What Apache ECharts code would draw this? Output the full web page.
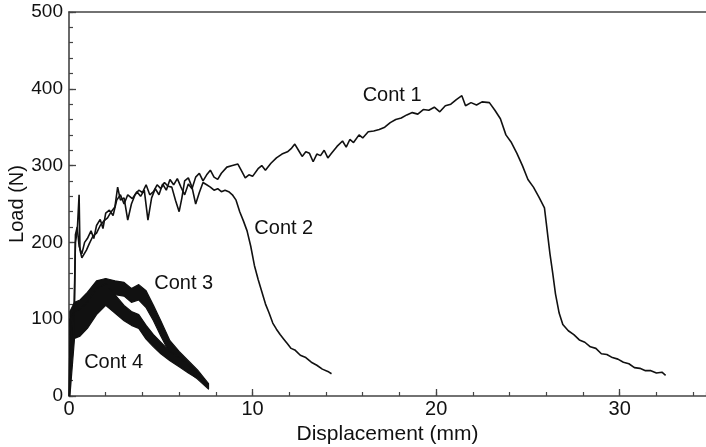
<!DOCTYPE html>
<html><head><meta charset="utf-8">
<script src="https://cdn.jsdelivr.net/npm/echarts@6/dist/echarts.min.js"></script>
<style>html,body{margin:0;padding:0;background:#fff}#c{width:706px;height:447px}</style>
</head><body><div id="c"></div>
<script>
// Cont 1 (long curve): [displacement mm, load N]
const cont1 = [[0.0,0],[0.05,60],[0.3,120],[0.35,210],[0.45,220],[0.55,195],[0.7,185],[0.85,200],[1.0,205],[1.2,215],[1.35,205],[1.5,222],[1.7,230],[1.85,218],[2.0,238],[2.2,242],[2.4,235],[2.6,255],[2.8,262],[3.0,250],[3.2,262],[3.45,257],[3.7,266],[3.9,260],[4.1,268],[4.3,229],[4.5,258],[4.7,270],[4.9,262],[5.1,276],[5.3,268],[5.5,282],[5.7,275],[5.9,283],[6.1,272],[6.3,262],[6.5,276],[6.7,270],[6.9,285],[7.1,290],[7.3,280],[7.5,288],[7.7,294],[7.9,285],[8.1,282],[8.3,290],[8.6,298],[8.9,300],[9.2,302],[9.4,293],[9.6,284],[9.8,288],[10.0,286],[10.3,296],[10.5,300],[10.7,294],[11.0,303],[11.3,310],[11.6,315],[11.9,318],[12.1,322],[12.3,328],[12.5,320],[12.7,312],[12.9,318],[13.1,316],[13.3,305],[13.5,315],[13.7,313],[13.9,320],[14.1,310],[14.3,316],[14.6,325],[14.9,332],[15.1,324],[15.3,334],[15.5,330],[15.8,340],[16.0,336],[16.3,344],[16.6,345],[16.9,347],[17.2,350],[17.5,356],[17.8,360],[18.1,362],[18.4,366],[18.7,369],[19.0,367],[19.3,373],[19.6,372],[19.9,376],[20.2,370],[20.5,378],[20.8,380],[21.1,386],[21.4,391],[21.6,378],[21.9,382],[22.2,379],[22.5,383],[22.9,382],[23.2,372],[23.5,361],[23.8,340],[24.1,330],[24.4,316],[24.7,300],[25.0,282],[25.3,272],[25.6,259],[25.9,245],[26.0,225],[26.1,205],[26.2,185],[26.35,160],[26.5,133],[26.7,108],[26.9,93],[27.2,85],[27.5,80],[27.8,73],[28.1,70],[28.4,64],[28.7,62],[29.0,55],[29.3,54],[29.6,50],[29.9,48],[30.2,44],[30.5,42],[30.8,37],[31.1,36],[31.4,33],[31.7,33],[32.0,30],[32.3,31],[32.5,27]];
// Cont 2
const cont2 = [[0.25,80],[0.35,200],[0.45,215],[0.55,262],[0.6,190],[0.7,180],[0.8,178],[0.95,190],[1.1,198],[1.3,208],[1.5,212],[1.7,222],[1.9,228],[2.1,232],[2.3,240],[2.5,246],[2.65,272],[2.8,255],[3.0,258],[3.2,229],[3.4,250],[3.6,262],[3.8,268],[4.0,265],[4.2,275],[4.4,262],[4.6,266],[4.8,275],[5.0,270],[5.2,278],[5.4,273],[5.6,272],[5.8,255],[6.0,240],[6.15,258],[6.3,280],[6.5,284],[6.7,272],[6.9,250],[7.1,265],[7.3,278],[7.5,275],[7.7,272],[7.9,268],[8.1,270],[8.3,266],[8.5,268],[8.7,266],[8.9,262],[9.1,255],[9.3,240],[9.5,228],[9.7,215],[9.9,195],[10.1,170],[10.3,152],[10.5,136],[10.7,120],[10.9,108],[11.1,95],[11.3,87],[11.5,80],[11.7,74],[11.9,68],[12.1,62],[12.3,60],[12.6,53],[12.9,50],[13.2,44],[13.5,40],[13.8,35],[14.1,32],[14.3,29]];
// Cont 3 noisy band: lower and upper envelope
const cont3X  = [0.05,0.3,0.6,1.0,1.5,2.0,2.5,3.0,3.4,3.8,4.2,4.6,5.0,5.5,6.0,6.5,7.0,7.6];
const cont3Lo = [30,85,88,98,118,130,132,130,122,125,115,98,78,55,44,32,22,9];
const cont3Hi = [110,122,125,135,150,153,150,148,140,145,137,118,98,72,58,46,34,16];
// Cont 4 noisy band
const cont4X  = [0.05,0.3,0.6,1.0,1.5,2.0,2.5,3.0,3.4,3.8,4.2,4.6,5.0,5.5,6.0,6.5,6.9];
const cont4Lo = [0,75,78,88,106,118,108,98,92,88,74,64,55,46,38,30,24];
const cont4Hi = [100,110,113,122,140,146,132,118,110,106,92,80,70,58,50,40,32];
// Tick values
const xMajor = 10, xMinor = 2, xMax = 34.7;
const yMajor = 100, yMinor = 20, yMax = 500;
// Curve labels (data coordinates)
const labelNames = ['Cont 1','Cont 2','Cont 3','Cont 4'];
const labelPos = [[17.6,391],[11.7,218],[6.25,147],[2.43,43]];

const FONT = "'Liberation Sans', Arial, Helvetica, sans-serif";
const AX = '#444';
const INK = '#111';
const chart = echarts.init(document.getElementById('c'), null, {renderer:'canvas'});

function band(xs, lo, hi, id){
  return {
    type:'custom', name:id, silent:true, z:3,
    xAxisIndex:0, yAxisIndex:0,
    data:[[xs[0], lo[0]]],
    encode:{x:0, y:1},
    renderItem:function(params, api){
      const pts = [];
      for (let i = 0; i < xs.length; i++) pts.push(api.coord([xs[i], hi[i]]));
      for (let i = xs.length - 1; i >= 0; i--) pts.push(api.coord([xs[i], lo[i]]));
      return {type:'polygon', shape:{points:pts},
        style:{fill:INK, stroke:INK, lineWidth:1.2, lineJoin:'round'}};
    }
  };
}

const base = {
  animation:false,
  grid:{left:69, right:0, top:12, bottom:51, containLabel:false, outerBoundsMode:'none'},
  xAxis:[
    {type:'value', min:0, max:xMax, interval:xMajor, position:'bottom',
     axisLine:{show:true, lineStyle:{color:AX, width:1.6}},
     axisTick:{show:true, inside:true, length:7, lineStyle:{color:AX, width:1.3}},
     axisLabel:{show:true, margin:3, fontSize:20, color:'#111', fontFamily:FONT, showMaxLabel:false},
     splitLine:{show:false},
     name:'Displacement (mm)', nameLocation:'middle', nameGap:28, nameMoveOverlap:false,
     nameTextStyle:{fontSize:21, color:'#111', fontFamily:FONT}},
    {type:'value', min:0, max:xMax, interval:xMinor, position:'bottom',
     axisLine:{show:false},
     axisTick:{show:true, inside:true, length:4, lineStyle:{color:AX, width:1.2}},
     axisLabel:{show:false}, splitLine:{show:false}},
    {type:'value', min:0, max:xMax, position:'top',
     axisLine:{show:true, lineStyle:{color:AX, width:1.6}},
     axisTick:{show:false}, axisLabel:{show:false}, splitLine:{show:false}}
  ],
  yAxis:[
    {type:'value', min:0, max:yMax, interval:yMajor, position:'left',
     axisLine:{show:true, lineStyle:{color:AX, width:1.6}},
     axisTick:{show:true, inside:true, length:7, lineStyle:{color:AX, width:1.3}},
     axisLabel:{show:true, margin:6, fontSize:19, color:'#111', fontFamily:FONT},
     splitLine:{show:false},
     name:'Load (N)', nameLocation:'middle', nameGap:42, nameRotate:90, nameMoveOverlap:false,
     nameTextStyle:{fontSize:20, color:'#111', fontFamily:FONT}},
    {type:'value', min:0, max:yMax, interval:yMinor, position:'left',
     axisLine:{show:false},
     axisTick:{show:true, inside:true, length:4, lineStyle:{color:AX, width:1.2}},
     axisLabel:{show:false}, splitLine:{show:false}}
  ],
  series:[
    {type:'line', name:'Cont 1', data:cont1, showSymbol:false, symbol:'none',
     lineStyle:{width:1.6, color:INK}, z:4},
    {type:'line', name:'Cont 2', data:cont2, showSymbol:false, symbol:'none',
     lineStyle:{width:1.6, color:INK}, z:4},
    band(cont3X, cont3Lo, cont3Hi, 'Cont 3'),
    band(cont4X, cont4Lo, cont4Hi, 'Cont 4')
  ]
};
chart.setOption(base);

const g = labelNames.map((t,i)=>{
  const p = chart.convertToPixel({xAxisIndex:0, yAxisIndex:0}, labelPos[i]);
  return {type:'text', x:p[0], y:p[1], z:10,
    style:{text:t, fill:'#111', font:'20px ' + FONT, align:'center', verticalAlign:'middle'}};
});
chart.setOption({graphic:g});
</script></body></html>
